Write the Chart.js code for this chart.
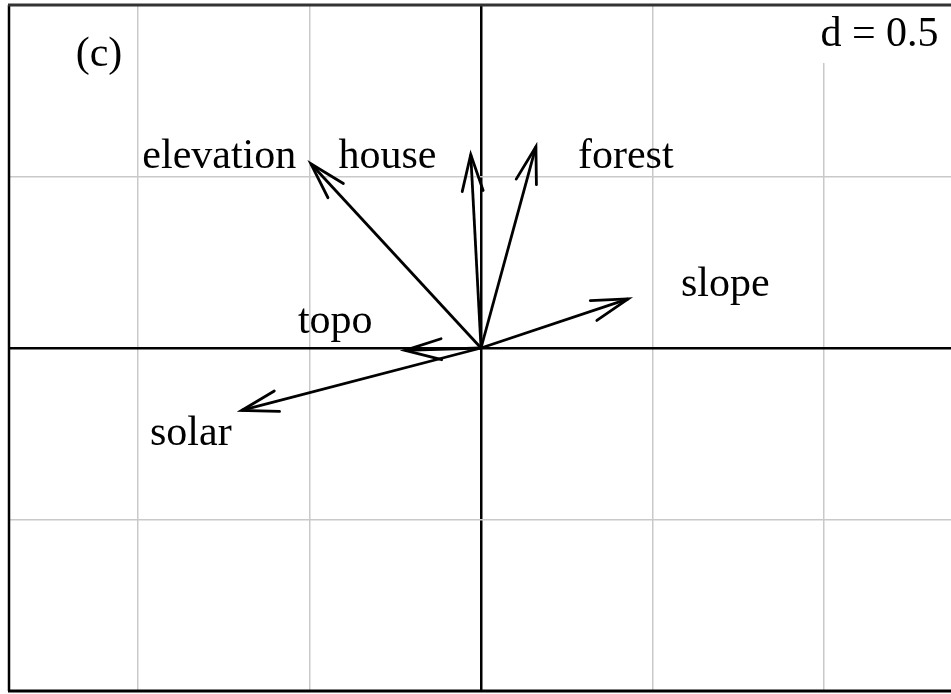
<!DOCTYPE html>
<html>
<head>
<meta charset="utf-8">
<script src="https://cdn.jsdelivr.net/npm/chart.js@4/dist/chart.umd.min.js"></script>
<style>
  html, body { margin: 0; padding: 0; background: #fff; }
  #wrap { width: 951px; height: 694px; position: relative; }
</style>
</head>
<body>
<div id="wrap"><canvas id="c"></canvas></div>
<script>
// ---- data ----
const variables = ["elevation", "house", "forest", "slope", "topo", "solar"];
const loadX = [-0.496, -0.030, 0.160, 0.429, -0.222, -0.698];
const loadY = [0.537, 0.564, 0.587, 0.143, -0.007, -0.182];
// label anchor (centre x, baseline y) in data units
const labelX = [-0.763, -0.273, 0.422, 0.712, -0.425, -0.846];
const labelY = [0.524, 0.524, 0.524, 0.151, 0.044, -0.282];
const gridX = [-1, -0.5, 0, 0.5, 1];
const gridY = [-0.5, 0, 0.5];
const gridStepLabel = "d = 0.5";
const panelLabel = "(c)";

const FONT = '42px "Liberation Serif", "Times New Roman", serif';

const datasets = variables.map((v, i) => ({
  label: v,
  data: [{ x: 0, y: 0 }, { x: loadX[i], y: loadY[i] }],
  showLine: true,
  borderColor: "#000",
  borderWidth: 2.8,
  pointRadius: 0,
  fill: false
}));

const overlay = {
  id: "overlay",
  afterDatasetsDraw(chart) {
    const ctx = chart.ctx;
    const xs = chart.scales.x, ys = chart.scales.y;
    const ox = xs.getPixelForValue(0), oy = ys.getPixelForValue(0);
    ctx.save();
    // arrow heads
    ctx.strokeStyle = "#000";
    ctx.lineWidth = 2.8;
    ctx.lineCap = "round";
    ctx.lineJoin = "miter";
    const L = 38, A = 16 * Math.PI / 180;
    for (let i = 0; i < variables.length; i++) {
      const tx = xs.getPixelForValue(loadX[i]);
      const ty = ys.getPixelForValue(loadY[i]);
      const ang = Math.atan2(oy - ty, ox - tx);
      ctx.beginPath();
      ctx.moveTo(tx + L * Math.cos(ang + A), ty + L * Math.sin(ang + A));
      ctx.lineTo(tx, ty);
      ctx.lineTo(tx + L * Math.cos(ang - A), ty + L * Math.sin(ang - A));
      ctx.stroke();
    }
    // labels
    ctx.fillStyle = "#000";
    ctx.font = FONT;
    ctx.textAlign = "center";
    ctx.textBaseline = "alphabetic";
    for (let i = 0; i < variables.length; i++) {
      ctx.fillText(variables[i], xs.getPixelForValue(labelX[i]), ys.getPixelForValue(labelY[i]));
    }
    ctx.restore();
  },
  afterDraw(chart) {
    const ctx = chart.ctx;
    const a = chart.chartArea;
    ctx.save();
    // d = 0.5 box
    ctx.fillStyle = "#fff";
    ctx.fillRect(812, a.top, a.right - 812, 58);
    ctx.fillStyle = "#000";
    ctx.font = FONT;
    ctx.textAlign = "center";
    ctx.textBaseline = "alphabetic";
    ctx.fillText(gridStepLabel, 879.5, 46);
    ctx.fillText(panelLabel, 99, 66);
    // frame (left, top, bottom)
    ctx.strokeStyle = "#000";
    ctx.lineWidth = 2.5;
    ctx.beginPath();
    ctx.moveTo(a.left, a.bottom);
    ctx.lineTo(a.left, a.top);
    ctx.stroke();
    ctx.strokeStyle = "#333";
    ctx.lineWidth = 3;
    ctx.beginPath();
    ctx.moveTo(a.left - 1, a.top);
    ctx.lineTo(a.right, a.top);
    ctx.stroke();
    ctx.strokeStyle = "#000";
    ctx.beginPath();
    ctx.moveTo(a.left - 1, a.bottom);
    ctx.lineTo(a.right, a.bottom);
    ctx.stroke();
    ctx.restore();
  }
};

function gridOpts() {
  return {
    display: true,
    drawTicks: false,
    color: c => (c.tick && c.tick.value === 0) ? "#000" : "#c9c9c9",
    lineWidth: c => (c.tick && c.tick.value === 0) ? 2.5 : 1.5
  };
}

new Chart(document.getElementById("c"), {
  type: "scatter",
  data: { datasets },
  options: {
    responsive: true,
    maintainAspectRatio: false,
    animation: false,
    layout: { padding: { left: 9, top: 5, right: 0, bottom: 3 } },
    plugins: { legend: { display: false }, tooltip: { enabled: false } },
    scales: {
      x: {
        type: "linear",
        min: -1.376, max: 1.370,
        afterBuildTicks: s => { s.ticks = gridX.map(v => ({ value: v })); },
        ticks: { display: false },
        grid: gridOpts(),
        border: { display: false }
      },
      y: {
        type: "linear",
        min: -1.0, max: 1.0,
        afterBuildTicks: s => { s.ticks = gridY.map(v => ({ value: v })); },
        ticks: { display: false },
        grid: gridOpts(),
        border: { display: false }
      }
    }
  },
  plugins: [overlay]
});
</script>
</body>
</html>
